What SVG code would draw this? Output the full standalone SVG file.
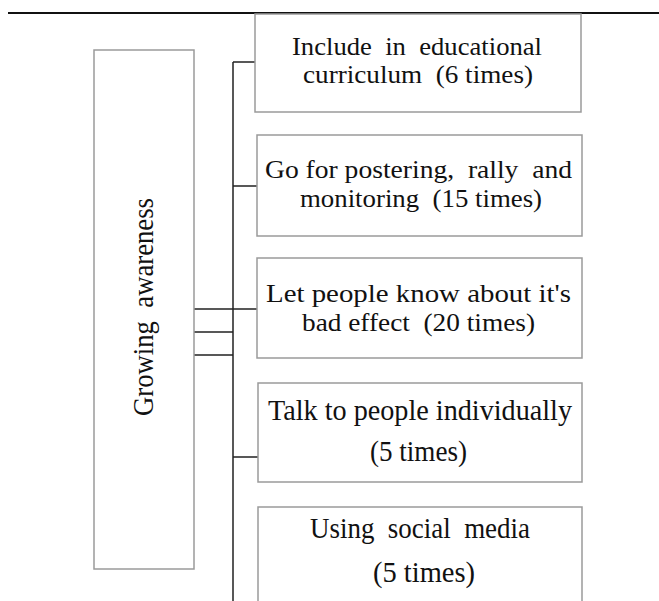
<svg xmlns="http://www.w3.org/2000/svg" width="659" height="601" viewBox="0 0 659 601">
<style>
.box{fill:#fff;stroke:#9a9a9a;stroke-width:1.5}
.t{font-family:"Liberation Serif","Times New Roman",serif;font-size:30px;fill:#111;white-space:pre}
.s{font-size:26px}
.c{fill:none;stroke:#222;stroke-width:1.5}
</style>
<rect width="659" height="601" fill="#fff"/>
<line x1="8" y1="13" x2="659" y2="13" stroke="#111" stroke-width="2"/>
<g id="connectors">
<path class="c" d="M233 62V601M233 62H255M233 186H257M194 309H258M194 332H233M194 355H233M233 457H258"/>
</g>
<g id="growing">
<rect class="box" x="94" y="50" width="100" height="519"/>
<text class="t" transform="translate(153,416) rotate(-90)" textLength="218" lengthAdjust="spacingAndGlyphs">Growing  awareness</text>
</g>
<g id="n1">
<rect class="box" x="255" y="14" width="326" height="98"/>
<text class="t s" x="292" y="55" textLength="250" lengthAdjust="spacingAndGlyphs">Include  in  educational</text>
<text class="t s" x="303" y="83" textLength="230" lengthAdjust="spacingAndGlyphs">curriculum  (6 times)</text>
</g>
<g id="n2">
<rect class="box" x="257" y="135" width="325" height="101"/>
<text class="t s" x="265" y="178" textLength="307" lengthAdjust="spacingAndGlyphs">Go for postering,  rally  and</text>
<text class="t s" x="300" y="207" textLength="242" lengthAdjust="spacingAndGlyphs">monitoring  (15 times)</text>
</g>
<g id="n3">
<rect class="box" x="257" y="258" width="325" height="100"/>
<text class="t s" x="266" y="302" textLength="305" lengthAdjust="spacingAndGlyphs">Let people know about it's</text>
<text class="t s" x="302" y="331" textLength="233" lengthAdjust="spacingAndGlyphs">bad effect  (20 times)</text>
</g>
<g id="n4">
<rect class="box" x="258" y="383" width="324" height="99"/>
<text class="t" x="268" y="420" textLength="304" lengthAdjust="spacingAndGlyphs">Talk to people individually</text>
<text class="t" x="370" y="461" textLength="97" lengthAdjust="spacingAndGlyphs">(5 times)</text>
</g>
<g id="n5">
<rect class="box" x="258" y="507" width="324" height="110"/>
<text class="t" x="310" y="538" textLength="220" lengthAdjust="spacingAndGlyphs">Using  social  media</text>
<text class="t" x="373" y="582" textLength="102" lengthAdjust="spacingAndGlyphs">(5 times)</text>
</g>
</svg>
